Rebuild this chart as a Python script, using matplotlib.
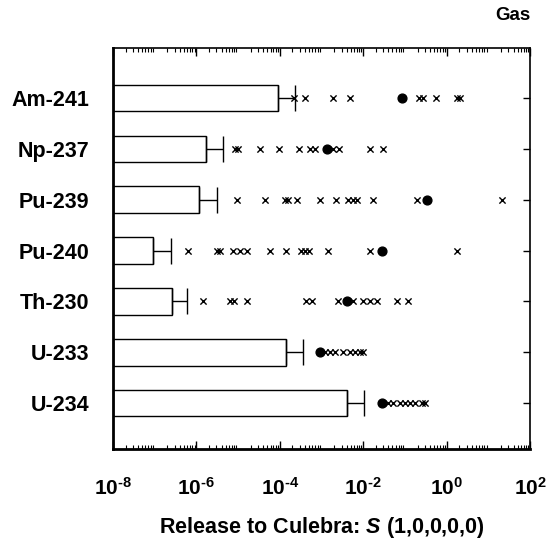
import numpy as np
import matplotlib
matplotlib.use('Agg')
import matplotlib.pyplot as plt
from matplotlib.ticker import LogLocator, FixedLocator, NullFormatter

plt.rcParams['font.family'] = ['Liberation Sans', 'DejaVu Sans']
plt.rcParams['font.weight'] = 'bold'
plt.rcParams['mathtext.fontset'] = 'custom'
plt.rcParams['mathtext.rm'] = 'Liberation Sans:bold'
plt.rcParams['mathtext.bf'] = 'Liberation Sans:bold'
plt.rcParams['mathtext.it'] = 'Liberation Sans:bold:italic'

nuclides = ['Am-241', 'Np-237', 'Pu-239', 'Pu-240', 'Th-230', 'U-233', 'U-234']

# mean release (bar) and upper end of the error bar
mean_release = [9.1e-5, 1.7e-6, 1.15e-6, 9.1e-8, 2.6e-7, 1.4e-4, 4.1e-3]
upper_release = [2.3e-4, 4.4e-6, 3.1e-6, 2.5e-7, 5.9e-7, 3.6e-4, 1.05e-2]

# individual realizations (crosses)
am241_x = [2.2e-4, 4.0e-4, 1.9e-3, 4.8e-3, 0.22, 0.27, 0.56, 1.8, 2.1]
np237_x = [8.5e-6, 1.0e-5, 3.4e-5, 9.5e-5, 2.9e-4, 5.2e-4, 6.9e-4, 1.9e-3,
           2.6e-3, 1.45e-2, 2.95e-2]
pu239_x = [9.3e-6, 4.5e-5, 1.3e-4, 1.6e-4, 2.6e-4, 9.1e-4, 2.2e-3, 4.4e-3,
           5.8e-3, 7.1e-3, 1.7e-2, 0.19, 21.0]
pu240_x = [6.3e-7, 3.1e-6, 3.7e-6, 7.6e-6, 1.1e-5, 1.6e-5, 5.9e-5, 1.4e-4,
           3.2e-4, 4.0e-4, 5.0e-4, 1.45e-3, 1.45e-2, 1.8]
th230_x = [1.45e-6, 6.5e-6, 7.9e-6, 1.6e-5, 4.3e-4, 5.9e-4, 2.5e-3, 5.8e-3,
           1.0e-2, 1.45e-2, 2.1e-2, 6.5e-2, 0.12]
u233_x = [1.2e-3, 1.6e-3, 2.1e-3, 3.3e-3, 4.8e-3, 6.3e-3, 8.3e-3, 1.0e-2]
u234_x = [3.9e-2, 5.1e-2, 7.6e-2, 0.10, 0.13, 0.17, 0.26, 0.30]
realizations = [am241_x, np237_x, pu239_x, pu240_x, th230_x, u233_x, u234_x]

# highlighted realization (filled circle)
circle_release = [0.085, 1.35e-3, 0.34, 2.8e-2, 4.1e-3, 9.1e-4, 2.8e-2]

x_min, x_max = 1e-8, 1e2

fig = plt.figure(figsize=(5.54, 5.42), dpi=100)
ax = fig.add_axes([0.204, 0.1716, 0.753, 0.7398])

ypos = np.arange(len(nuclides))
widths = [m - x_min for m in mean_release]
ax.barh(ypos, widths, left=x_min, height=0.52, color='white',
        edgecolor='black', linewidth=1.0, zorder=2)
xerr = [np.zeros(len(nuclides)), np.array(upper_release) - np.array(mean_release)]
ax.errorbar(mean_release, ypos, xerr=xerr, fmt='none', ecolor='black',
            elinewidth=1.0, capsize=9.5, capthick=1.0, zorder=3)

for i, vals in enumerate(realizations):
    ax.scatter(vals, [i] * len(vals), marker='x', s=20, color='black',
               linewidths=1.0, zorder=4)
ax.scatter(circle_release, ypos, marker='o', s=40, color='black', zorder=5)

ax.set_xscale('log')
ax.set_xlim(x_min, x_max)
ax.set_ylim(6.9, -0.98)

# exponents drawn with a plain hyphen, as in typeset reports
major = [1e-8, 1e-6, 1e-4, 1e-2, 1e0, 1e2]
ax.xaxis.set_major_locator(FixedLocator(major))
exp_labels = []
for v in major:
    e = int(np.log10(v))
    sign = '\u2010' if e < 0 else ''
    exp_labels.append('$\\mathbf{10^{%s%d}}$' % (sign, abs(e)))
ax.set_xticklabels(exp_labels, fontsize=15)
ax.xaxis.set_minor_locator(LogLocator(base=10, subs=np.arange(2, 10), numticks=100))
ax.xaxis.set_minor_formatter(NullFormatter())

ax.set_yticks(ypos)
ax.set_yticklabels(nuclides, fontsize=15.5, fontweight='bold')

ax.tick_params(axis='x', which='major', direction='in', length=6, width=1,
               top=True, pad=20)
ax.tick_params(axis='x', which='minor', direction='in', length=3, width=0.8,
               top=True)
ax.tick_params(axis='y', which='major', direction='in', length=5, width=1,
               right=True, pad=17)

for side in ['left', 'bottom']:
    ax.spines[side].set_linewidth(2.0)
for side in ['top', 'right']:
    ax.spines[side].set_linewidth(1.2)

ax.set_xlabel(r'Release to Culebra: $\mathit{S}$ (1,0,0,0,0)', fontsize=15.5,
              fontweight='bold', labelpad=12)
fig.text(0.957, 0.972, 'Gas', ha='right', va='center', fontsize=13.5,
         fontweight='bold')

fig.savefig('out.png', dpi=100)
